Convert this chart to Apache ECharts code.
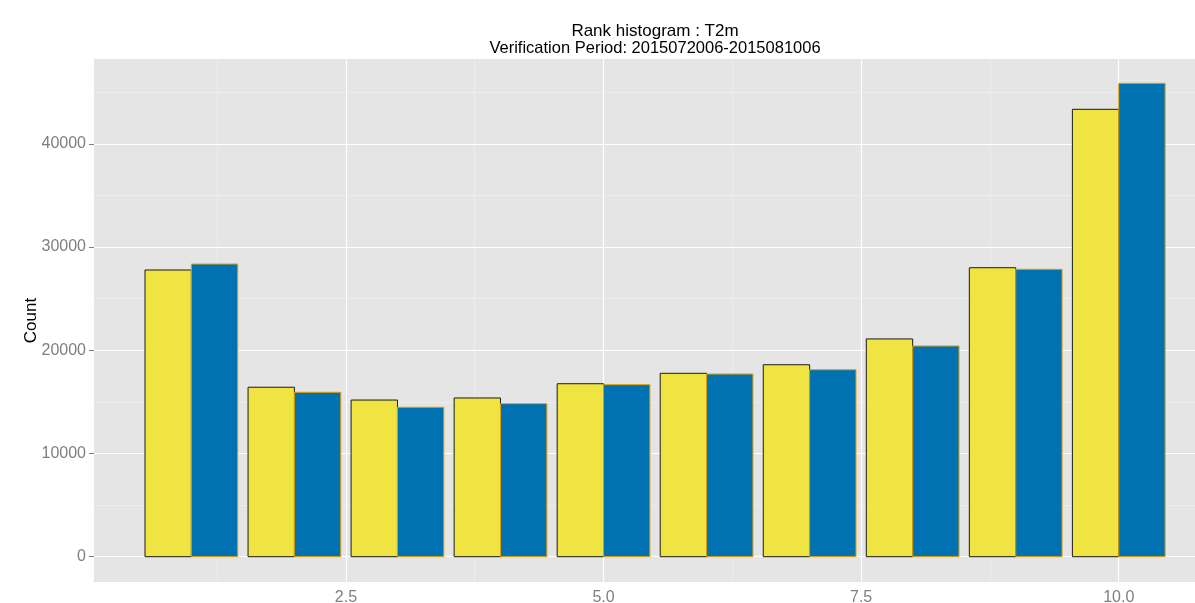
<!DOCTYPE html>
<html>
<head>
<meta charset="utf-8">
<script src="https://cdn.jsdelivr.net/npm/echarts@6/dist/echarts.min.js"></script>
<style>
  html, body { margin: 0; padding: 0; background: #fff; overflow: hidden; }
  #chart { width: 1195px; height: 603px; }
</style>
</head>
<body>
<div id="chart"></div>
<script>
// Rank histogram counts for the two experiments, one value per rank
const ranks   = [1, 2, 3, 4, 5, 6, 7, 8, 9, 10];
const countsA = [27780, 16420, 15180, 15380, 16760, 17770, 18600, 21100, 28000, 43350];
const countsB = [28360, 15930, 14480, 14830, 16670, 17700, 18120, 20420, 27850, 45870];

// Axis breaks (major and minor)
const xTicks = [2.5, 5, 7.5, 10];
const yTicks = [0, 10000, 20000, 30000, 40000];
const xMinor = [1.25, 3.75, 6.25, 8.75];
const yMinor = [5000, 15000, 25000, 35000, 45000];

const titleLines = ['Rank histogram : T2m', 'Verification Period: 2015072006-2015081006'];
const titleSizes = [17, 16.5];
const yName = 'Count';

const FONT = '"Liberation Sans", Arial, Helvetica, sans-serif';
const HALF = 0.45; // each dodged bar is 0.45 rank units wide

function barSeries(name, values, offset, fill, stroke) {
  return {
    type: 'custom',
    name: name,
    z: 10,
    data: ranks.map((r, i) => [r, values[i]]),
    renderItem: function (params, api) {
      const x = api.value(0), y = api.value(1);
      const p0 = api.coord([x + offset, y]);
      const p1 = api.coord([x + offset + HALF, 0]);
      return {
        type: 'rect',
        shape: { x: p0[0], y: p0[1], width: p1[0] - p0[0], height: p1[1] - p0[1] },
        style: { fill: fill, stroke: stroke, lineWidth: 1 }
      };
    }
  };
}

function gridLines() {
  const minorStyle = { color: '#F2F2F2', width: 0.6, type: 'solid' };
  const majorStyle = { color: '#FFFFFF', width: 1.2, type: 'solid' };
  const d = [];
  xMinor.forEach(v => d.push({ xAxis: v, lineStyle: minorStyle }));
  yMinor.forEach(v => d.push({ yAxis: v, lineStyle: minorStyle }));
  xTicks.forEach(v => d.push({ xAxis: v, lineStyle: majorStyle }));
  yTicks.forEach(v => d.push({ yAxis: v, lineStyle: majorStyle }));
  return {
    type: 'line',
    data: [],
    z: 1,
    silent: true,
    markLine: {
      silent: true,
      z: 1,
      animation: false,
      symbol: ['none', 'none'],
      label: { show: false },
      emphasis: { disabled: true },
      data: d
    }
  };
}

const chart = echarts.init(document.getElementById('chart'), null, { renderer: 'canvas' });
chart.setOption({
  animation: false,
  textStyle: { fontFamily: FONT },
  grid: {
    left: 94, right: 0, top: 59, bottom: 21,
    show: true, backgroundColor: '#E5E5E5', borderWidth: 0,
    containLabel: false,
    outerBoundsMode: 'none'
  },
  xAxis: {
    type: 'value',
    min: 0.055, max: 10.74,
    axisLine: { show: false },
    splitLine: { show: false },
    axisTick: { show: true, customValues: xTicks, length: 5, lineStyle: { color: '#7F7F7F', width: 1 } },
    axisLabel: {
      customValues: xTicks,
      formatter: v => Number(v).toFixed(1),
      color: '#7F7F7F', fontSize: 16, margin: 8, fontFamily: FONT
    }
  },
  yAxis: {
    type: 'value',
    min: -2452, max: 48226,
    name: yName,
    nameLocation: 'middle',
    nameGap: 54,
    nameMoveOverlap: false,
    nameTextStyle: { color: '#000', fontSize: 17, fontFamily: FONT },
    axisLine: { show: false },
    splitLine: { show: false },
    axisTick: { show: true, customValues: yTicks, length: 5, lineStyle: { color: '#7F7F7F', width: 1 } },
    axisLabel: {
      customValues: yTicks,
      formatter: v => String(v),
      color: '#7F7F7F', fontSize: 16, margin: 8, fontFamily: FONT
    }
  },
  graphic: titleLines.map((t, i) => ({
    type: 'text',
    x: 655, y: 31 + 17 * i,
    style: {
      text: t, fill: '#000', fontSize: titleSizes[i], fontFamily: FONT,
      textAlign: 'center', textVerticalAlign: 'middle'
    }
  })),
  series: [
    gridLines(),
    barSeries('A', countsA, -HALF, '#F0E442', '#1A1A1A'),
    barSeries('B', countsB, 0, '#0072B2', '#E69F00')
  ]
});
</script>
</body>
</html>
